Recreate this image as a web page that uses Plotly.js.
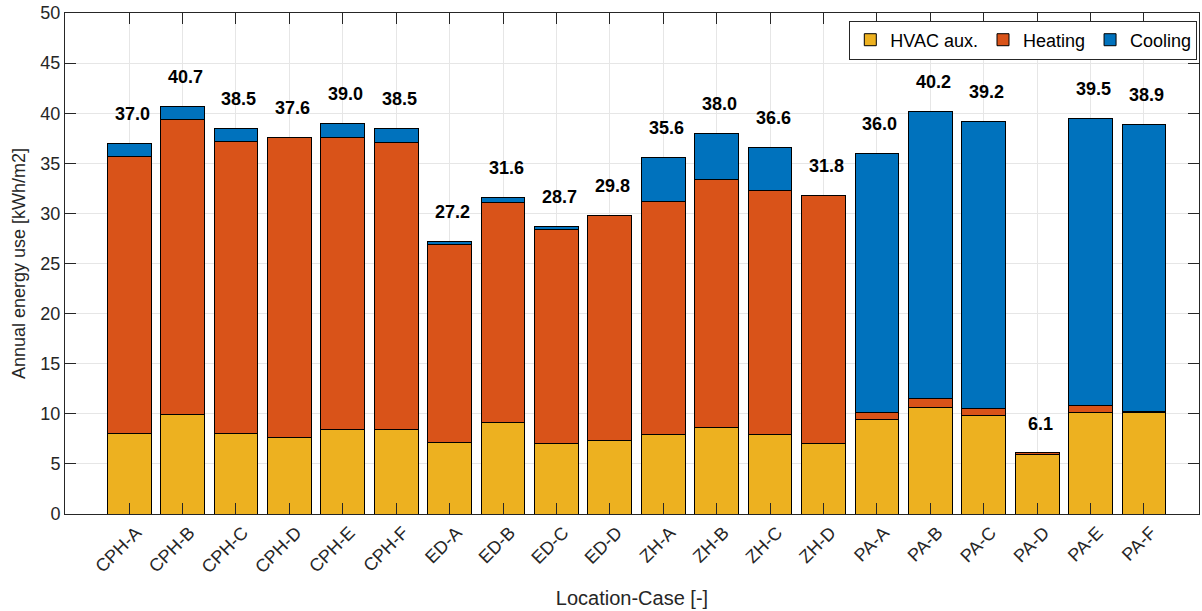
<!DOCTYPE html>
<html>
<head>
<meta charset="utf-8">
<script src="https://cdn.plot.ly/plotly-3.0.1.min.js"></script>
<style>html,body{margin:0;padding:0;background:#fff;}#chart{width:1202px;height:611px;}</style>
</head>
<body>
<div id="chart"></div>
<script>
const categories = ["CPH-A","CPH-B","CPH-C","CPH-D","CPH-E","CPH-F","ED-A","ED-B","ED-C","ED-D","ZH-A","ZH-B","ZH-C","ZH-D","PA-A","PA-B","PA-C","PA-D","PA-E","PA-F"];
const hvacAux = [8.0, 9.9, 8.0, 7.6, 8.4, 8.4, 7.1, 9.1, 7.0, 7.3, 7.9, 8.6, 7.9, 7.0, 9.4, 10.6, 9.8, 5.9, 10.1, 10.1];
const heating = [27.7, 29.5, 29.2, 30.0, 29.2, 28.7, 19.8, 22.0, 21.4, 22.5, 23.3, 24.8, 24.4, 24.8, 0.7, 0.9, 0.7, 0.2, 0.7, 0.1];
const cooling = [1.3, 1.3, 1.3, 0.0, 1.4, 1.4, 0.3, 0.5, 0.3, 0.0, 4.4, 4.6, 4.3, 0.0, 25.9, 28.7, 28.7, 0.0, 28.7, 28.7];
const totals = [37.0, 40.7, 38.5, 37.6, 39.0, 38.5, 27.2, 31.6, 28.7, 29.8, 35.6, 38.0, 36.6, 31.8, 36.0, 40.2, 39.2, 6.1, 39.5, 38.9];
const yTicks = [0, 5, 10, 15, 20, 25, 30, 35, 40, 45, 50];

const xIdx = categories.map((c, i) => i);
const font = "Liberation Sans, Arial, sans-serif";
const line = {color: "#000000", width: 1};

const traces = [
  {type: "bar", name: "HVAC aux.", x: xIdx, y: hvacAux, marker: {color: "#EDB120", line: line}},
  {type: "bar", name: "Heating", x: xIdx, y: heating, marker: {color: "#D95319", line: line}},
  {type: "bar", name: "Cooling", x: xIdx, y: cooling, marker: {color: "#0072BD", line: line}}
];

const annotations = totals.map((t, i) => ({
  x: i, y: t, xref: "x", yref: "y",
  text: t.toFixed(1), showarrow: false,
  yanchor: "middle", yshift: 29, xshift: 3,
  font: {family: font, size: 18, color: "#000", weight: "bold"}
}));

const layout = {
  width: 1202, height: 611,
  margin: {l: 65, r: 3, t: 13, b: 97},
  barmode: "stack", bargap: 0.18,
  paper_bgcolor: "#fff", plot_bgcolor: "#fff",
  font: {family: font, size: 17, color: "#262626"},
  showlegend: true,
  legend: {
    orientation: "h", x: 0.9985, xanchor: "right", y: 0.985, yanchor: "top",
    bordercolor: "#262626", borderwidth: 1, bgcolor: "#fff",
    font: {family: font, size: 18, color: "#000"},
    traceorder: "normal", itemwidth: 30, tracegroupgap: 0
  },
  xaxis: {
    range: [-1.2, 20.03],
    tickmode: "array", tickvals: xIdx, ticktext: categories,
    tickangle: -45, ticklabelshift: 7,
    ticks: "inside", ticklen: 11, tickcolor: "#262626", tickwidth: 1,
    showline: true, linecolor: "#262626", linewidth: 1, mirror: "ticks",
    showgrid: true, gridcolor: "#e6e6e6", gridwidth: 1,
    zeroline: false, layer: "above traces",
    tickfont: {family: font, size: 18, color: "#262626"},
    title: {text: "Location-Case [-]", font: {family: font, size: 20, color: "#262626"}, standoff: 14}
  },
  yaxis: {
    range: [0, 50],
    tickmode: "array", tickvals: yTicks,
    ticks: "inside", ticklen: 11, tickcolor: "#262626", tickwidth: 1,
    showline: true, linecolor: "#262626", linewidth: 1, mirror: "ticks",
    showgrid: true, gridcolor: "#e6e6e6", gridwidth: 1,
    zeroline: false, layer: "above traces",
    tickfont: {family: font, size: 18, color: "#262626"},
    title: {text: "Annual energy use [kWh/m2]", font: {family: font, size: 18, color: "#262626"}, standoff: 10}
  },
  annotations: annotations
};

Plotly.newPlot("chart", traces, layout, {displayModeBar: false, staticPlot: true});
</script>
</body>
</html>
